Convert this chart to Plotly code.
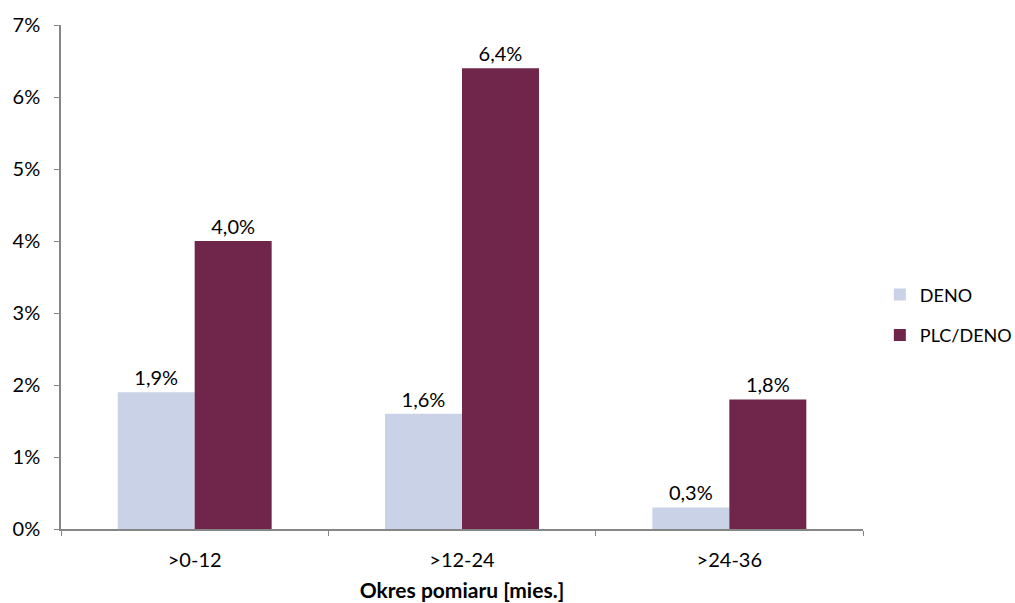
import plotly.graph_objects as go

categories = [">0-12", ">12-24", ">24-36"]
deno = [1.9, 1.6, 0.3]
plc_deno = [4.0, 6.4, 1.8]
series_names = ["DENO", "PLC/DENO"]
y_ticks = [0, 1, 2, 3, 4, 5, 6, 7]

FONT = "Lato, 'Open Sans', sans-serif"
AXIS_GREY = "#868686"
SIZE = 20


def pct_label(v):
    return f"{v:.1f}%".replace(".", ",")


fig = go.Figure()
for name, vals, color in [
    (series_names[0], deno, "#C9D2E6"),
    (series_names[1], plc_deno, "#70264A"),
]:
    fig.add_trace(go.Bar(
        name=name,
        x=categories,
        y=vals,
        marker=dict(color=color, line=dict(width=0)),
        text=[pct_label(v) for v in vals],
        textposition="outside",
        textfont=dict(size=SIZE, color="#000000", family=FONT),
        cliponaxis=False,
        legendgroup=name,
    ))

fig.update_layout(
    width=1015,
    height=603,
    margin=dict(l=61, r=152, t=25, b=74, autoexpand=False),
    paper_bgcolor="white",
    plot_bgcolor="white",
    barmode="group",
    bargap=0.424,
    bargroupgap=0,
    font=dict(family=FONT, size=SIZE, color="#000000"),
    legend=dict(
        x=1.021,
        xanchor="left",
        y=0.425,
        yanchor="middle",
        font=dict(size=18),
        tracegroupgap=14,
        traceorder="grouped",
        bgcolor="rgba(0,0,0,0)",
    ),
    xaxis=dict(
        showline=True,
        linecolor=AXIS_GREY,
        linewidth=1.5,
        ticks="outside",
        tickson="boundaries",
        ticklen=5,
        tickcolor=AXIS_GREY,
        tickfont=dict(size=SIZE),
        ticklabelstandoff=12,
        title=dict(
            text="<b>Okres pomiaru [mies.]</b>",
            font=dict(size=21),
            standoff=14,
        ),
    ),
    yaxis=dict(
        range=[0, 7],
        tickvals=y_ticks,
        ticktext=[f"{t}%" for t in y_ticks],
        showline=True,
        linecolor=AXIS_GREY,
        linewidth=1.5,
        ticks="outside",
        ticklen=5,
        tickcolor=AXIS_GREY,
        ticklabelstandoff=10,
        showgrid=False,
        zeroline=False,
        tickfont=dict(size=SIZE),
    ),
)

fig.write_html("out.html")
